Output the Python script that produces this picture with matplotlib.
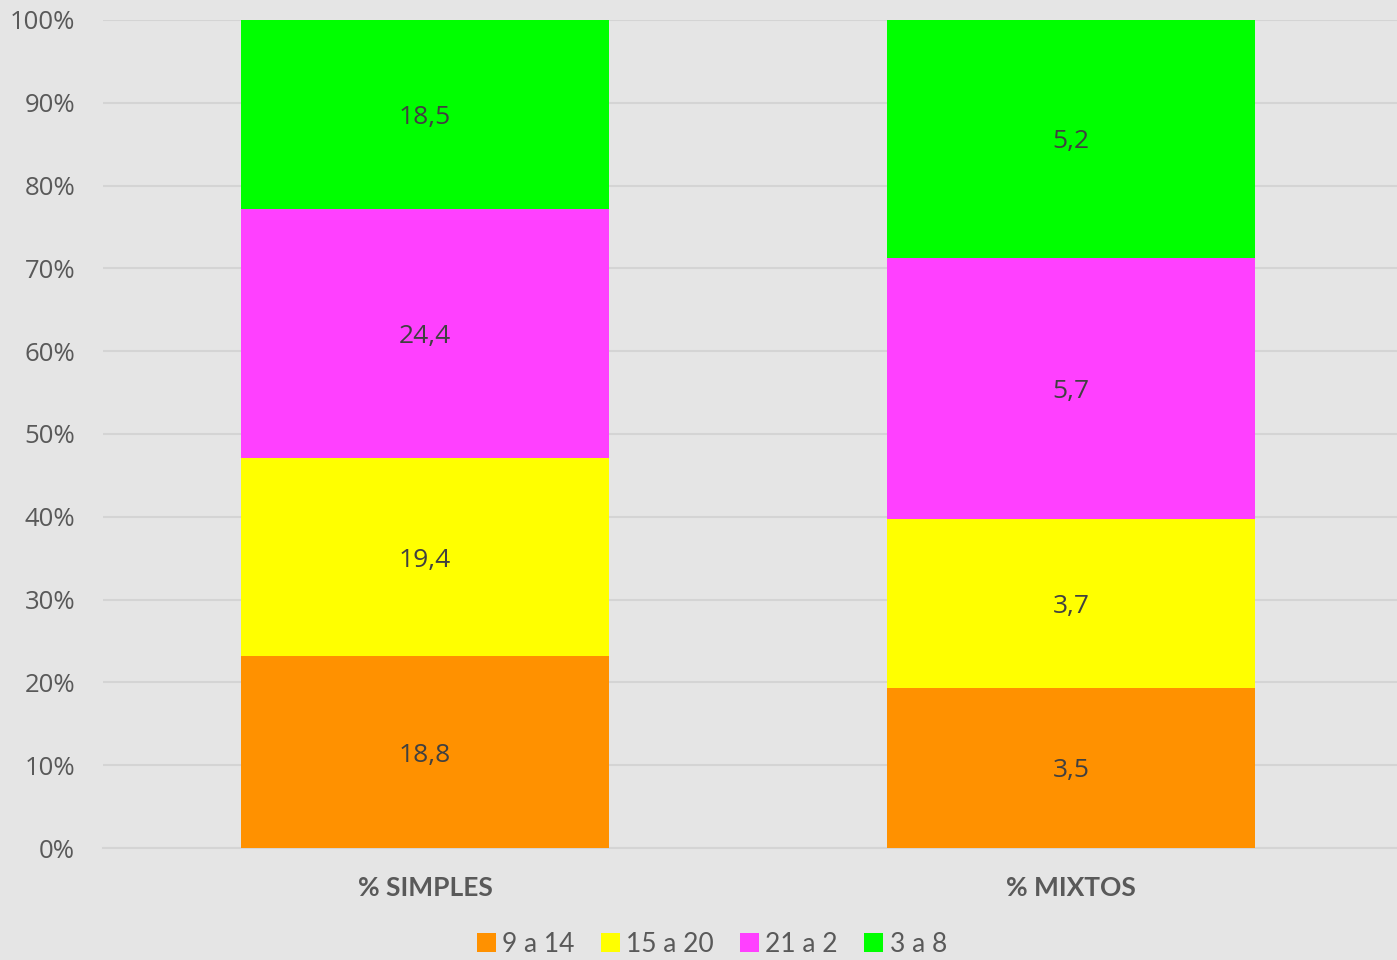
import matplotlib
matplotlib.use('Agg')
import matplotlib.pyplot as plt
import numpy as np
from matplotlib.patches import Patch
from matplotlib.ticker import PercentFormatter

categories = ['% SIMPLES', '% MIXTOS']
series_names = ['9 a 14', '15 a 20', '21 a 2', '3 a 8']
values = {
    '9 a 14': [18.8, 3.5],
    '15 a 20': [19.4, 3.7],
    '21 a 2': [24.4, 5.7],
    '3 a 8': [18.5, 5.2],
}
colors = ['#FF9100', '#FFFF00', '#FF40FF', '#00FF00']
yticks = [0, 10, 20, 30, 40, 50, 60, 70, 80, 90, 100]

plt.rcParams['font.family'] = ['Open Sans', 'DejaVu Sans']

bg = '#E5E5E5'
text_col = '#595959'

fig = plt.figure(figsize=(13.97, 9.6), dpi=100, facecolor=bg)
ax = fig.add_axes([103 / 1397, 1 - 848 / 960, 1 - 103 / 1397, (848 - 20) / 960], facecolor=bg)

x = np.arange(len(categories))
totals = np.sum([values[s] for s in series_names], axis=0)
bottom = np.zeros(len(categories))
for name, col in zip(series_names, colors):
    raw = np.array(values[name])
    pct = raw / totals * 100
    ax.bar(x, pct, bottom=bottom, width=0.57, color=col, zorder=3)
    for xi, b, p, r in zip(x, bottom, pct, raw):
        ax.text(xi, b + p / 2, f'{r:.1f}'.replace('.', ','), ha='center', va='center_baseline',
                fontsize=19, color='#404040', zorder=4)
    bottom += pct

ax.set_xlim(-322 / 646, 1 + 326 / 646)
ax.set_ylim(0, 100)
ax.set_yticks(yticks)
ax.yaxis.set_major_formatter(PercentFormatter(decimals=0))
ax.grid(axis='y', color='#D4D4D4', linewidth=1.5, zorder=0)
for sp in ax.spines.values():
    sp.set_visible(False)
ax.spines['bottom'].set_visible(True)
ax.spines['bottom'].set_color('#D4D4D4')
ax.spines['bottom'].set_linewidth(1.5)
ax.tick_params(axis='both', length=0, colors=text_col)
ax.tick_params(axis='y', labelsize=18.5, pad=20)
ax.set_xticks(x)
ax.set_xticklabels(categories, fontsize=19, fontweight='bold', family=['Lato', 'DejaVu Sans'])
ax.tick_params(axis='x', pad=20)

handles = [Patch(facecolor=c, label=n) for n, c in zip(series_names, colors)]
leg = fig.legend(handles=handles, loc='center', bbox_to_anchor=(712 / 1397, 1 - 944 / 960),
                 ncol=4, frameon=False, handlelength=0.7, handleheight=0.7,
                 handletextpad=0.25, columnspacing=1.0,
                 prop={'family': ['Lato', 'DejaVu Sans'], 'size': 19})
for t in leg.get_texts():
    t.set_color(text_col)

fig.savefig('out.png', dpi=100, facecolor=bg)
